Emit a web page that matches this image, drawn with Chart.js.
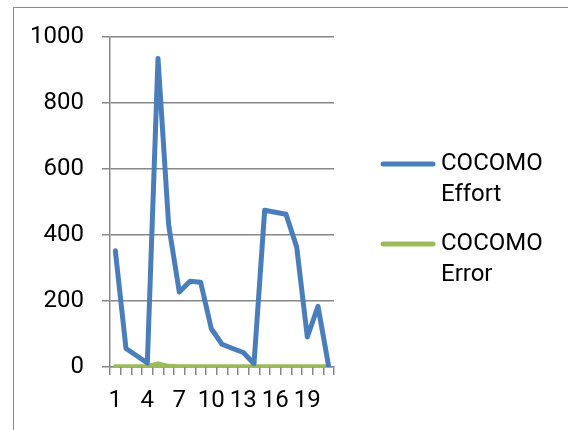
<!DOCTYPE html>
<html>
<head>
<meta charset="utf-8">
<script src="https://cdn.jsdelivr.net/npm/chart.js@4/dist/chart.umd.min.js"></script>
<style>
  html, body { margin: 0; padding: 0; background: #fff; overflow: hidden; }
  #frame { position: absolute; left: 13px; top: 7px; width: 620px; height: 500px; border: 1px solid #8a8a8a; }
  #wrap { position: absolute; left: 0; top: 0; width: 568px; height: 430px; }
</style>
</head>
<body>
<div id="frame"></div>
<div id="wrap"><canvas id="chart"></canvas></div>
<script>
const categories = ['1','2','3','4','5','6','7','8','9','10','11','12','13','14','15','16','17','18','19','20','21'];
const effortValues = [352, 56, 34, 12, 935, 430, 227, 260, 257, 116, 69, 56, 44, 10, 475, 469, 463, 364, 91, 184, 2];
const errorValues = [1, 1, 1, 1, 9, 2, 1, 1, 1, 1, 1, 1, 1, 1, 1, 1, 1, 1, 1, 1, 1];
const seriesNames = ['COCOMO Effort', 'COCOMO Error'];
const seriesColors = ['#4a7ebb', '#9bbb59'];
const yTicks = [0, 200, 400, 600, 800, 1000];

const FONT = 'Roboto';
const GRID = '#878787';

// legend on the right, each name wrapped onto two lines
const sideLegend = {
  id: 'sideLegend',
  afterDraw(chart) {
    const ctx = chart.ctx;
    const tops = [164, 244];
    ctx.save();
    ctx.font = '24px ' + FONT;
    ctx.textBaseline = 'middle';
    ctx.fillStyle = '#000';
    chart.data.datasets.forEach((ds, i) => {
      const y = tops[i];
      ctx.strokeStyle = ds.borderColor;
      ctx.lineWidth = 5;
      ctx.lineCap = 'round';
      ctx.beginPath();
      ctx.moveTo(383, y);
      ctx.lineTo(433, y);
      ctx.stroke();
      ds.label.split(' ').forEach((w, j) => ctx.fillText(w, 441, y + j * 31));
    });
    ctx.restore();
  }
};

new Chart(document.getElementById('chart'), {
  type: 'line',
  data: {
    labels: categories,
    datasets: [
      {
        label: seriesNames[0],
        data: effortValues,
        borderColor: seriesColors[0],
        backgroundColor: seriesColors[0],
        borderWidth: 5,
        pointRadius: 0,
        tension: 0,
        borderCapStyle: 'round',
        borderJoinStyle: 'round'
      },
      {
        label: seriesNames[1],
        data: errorValues,
        borderColor: seriesColors[1],
        backgroundColor: seriesColors[1],
        borderWidth: 5,
        pointRadius: 0,
        tension: 0,
        borderCapStyle: 'round',
        borderJoinStyle: 'round'
      }
    ]
  },
  options: {
    responsive: true,
    maintainAspectRatio: false,
    animation: false,
    layout: { padding: { left: 0, right: 234, top: 37, bottom: 0 } },
    plugins: {
      legend: { display: false },
      tooltip: { enabled: false }
    },
    scales: {
      x: {
        offset: true,
        grid: { offset: true, drawOnChartArea: false, drawTicks: true, tickLength: 8, color: GRID, lineWidth: 1.5 },
        border: { color: GRID, width: 1.5 },
        ticks: {
          autoSkip: false,
          maxRotation: 0,
          padding: 12,
          color: '#000',
          font: { family: FONT, size: 24 },
          callback: (v, i) => (i % 3 === 0 ? categories[i] : '')
        },
        afterFit: s => { s.height = 63; }
      },
      y: {
        min: 0,
        max: 1000,
        afterBuildTicks: s => { s.ticks = yTicks.map(v => ({ value: v })); },
        grid: { color: GRID, lineWidth: 1.5, tickLength: 8 },
        border: { color: GRID, width: 1.5 },
        ticks: {
          padding: 18,
          color: '#000',
          font: { family: FONT, size: 24 },
          callback: v => String(v)
        },
        afterFit: s => { s.width = 110; }
      }
    }
  },
  plugins: [sideLegend]
});
</script>
</body>
</html>
